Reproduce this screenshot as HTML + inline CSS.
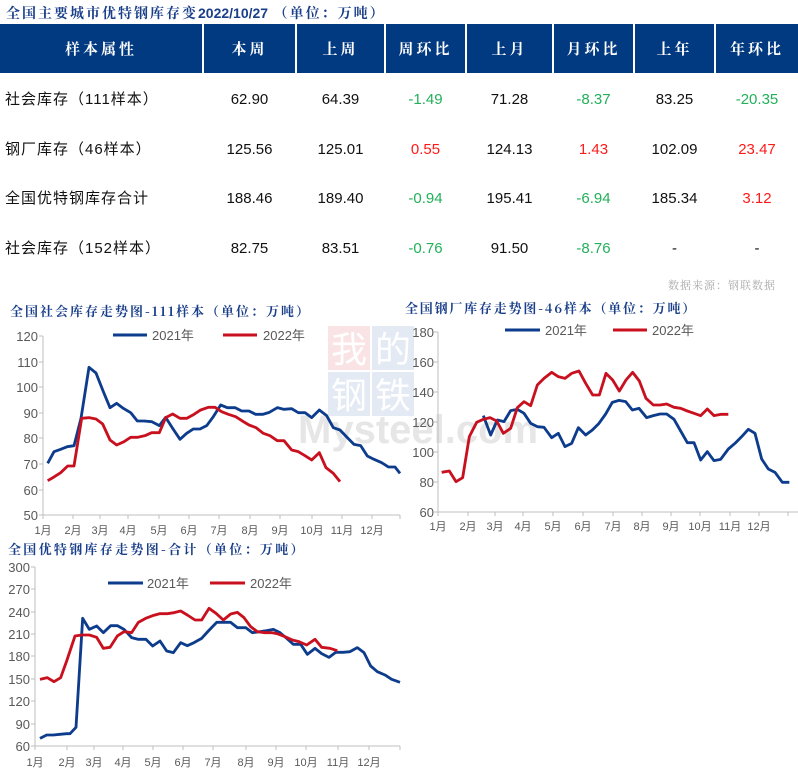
<!DOCTYPE html>
<html><head><meta charset="utf-8">
<style>
body{margin:0;width:798px;height:781px;background:#fff;position:relative;overflow:hidden;font-family:"Liberation Sans","Noto Sans CJK SC",sans-serif;}
.t{position:absolute;white-space:nowrap}
.title{font-family:"Noto Serif CJK SC","Liberation Serif",serif;font-weight:bold;color:#1a3f8a;font-size:13px}
.hd{position:absolute;top:24px;height:49px;background:#023a82;color:#fff;font-family:"Noto Serif CJK SC",serif;font-weight:bold;font-size:15px;line-height:49px;text-align:center;letter-spacing:3px}
.c{position:absolute;text-align:center;font-size:15px;color:#111;line-height:20px}
.g{color:#22b05a}.r{color:#ff1a1a}
</style></head><body>
<div class="t title" style="left:6px;top:3px;font-size:14px;letter-spacing:2px">全国主要城市优特钢库存变<span style="font-family:'Liberation Sans',sans-serif;letter-spacing:0">2022/10/27</span> （单位：万吨）</div>
<div class="hd" style="left:0;width:202px">样本属性</div>
<div class="hd" style="left:204px;width:91px">本周</div>
<div class="hd" style="left:297px;width:87px">上周</div>
<div class="hd" style="left:386px;width:79px">周环比</div>
<div class="hd" style="left:467px;width:85px">上月</div>
<div class="hd" style="left:554px;width:79px">月环比</div>
<div class="hd" style="left:635px;width:79px">上年</div>
<div class="hd" style="left:716px;width:82px">年环比</div>

<div class="c" style="left:5px;top:90px;text-align:left;letter-spacing:1px">社会库存（111样本）</div>
<div class="c" style="left:5px;top:140px;text-align:left;letter-spacing:1px">钢厂库存（46样本）</div>
<div class="c" style="left:5px;top:189px;text-align:left;letter-spacing:1px">全国优特钢库存合计</div>
<div class="c" style="left:5px;top:239px;text-align:left;letter-spacing:1px">社会库存（152样本）</div>

<div class="c" style="left:204px;width:91px;top:90px">62.90</div>
<div class="c" style="left:204px;width:91px;top:140px">125.56</div>
<div class="c" style="left:204px;width:91px;top:189px">188.46</div>
<div class="c" style="left:204px;width:91px;top:239px">82.75</div>
<div class="c" style="left:297px;width:87px;top:90px">64.39</div>
<div class="c" style="left:297px;width:87px;top:140px">125.01</div>
<div class="c" style="left:297px;width:87px;top:189px">189.40</div>
<div class="c" style="left:297px;width:87px;top:239px">83.51</div>
<div class="c g" style="left:386px;width:79px;top:90px">-1.49</div>
<div class="c r" style="left:386px;width:79px;top:140px">0.55</div>
<div class="c g" style="left:386px;width:79px;top:189px">-0.94</div>
<div class="c g" style="left:386px;width:79px;top:239px">-0.76</div>
<div class="c" style="left:467px;width:85px;top:90px">71.28</div>
<div class="c" style="left:467px;width:85px;top:140px">124.13</div>
<div class="c" style="left:467px;width:85px;top:189px">195.41</div>
<div class="c" style="left:467px;width:85px;top:239px">91.50</div>
<div class="c g" style="left:554px;width:79px;top:90px">-8.37</div>
<div class="c r" style="left:554px;width:79px;top:140px">1.43</div>
<div class="c g" style="left:554px;width:79px;top:189px">-6.94</div>
<div class="c g" style="left:554px;width:79px;top:239px">-8.76</div>
<div class="c" style="left:635px;width:79px;top:90px">83.25</div>
<div class="c" style="left:635px;width:79px;top:140px">102.09</div>
<div class="c" style="left:635px;width:79px;top:189px">185.34</div>
<div class="c" style="left:635px;width:79px;top:239px">-</div>
<div class="c g" style="left:716px;width:82px;top:90px">-20.35</div>
<div class="c r" style="left:716px;width:82px;top:140px">23.47</div>
<div class="c r" style="left:716px;width:82px;top:189px">3.12</div>
<div class="c" style="left:716px;width:82px;top:239px">-</div>
<div class="t" style="left:668px;top:277px;font-size:11px;color:#aaa;letter-spacing:1px;font-family:'Noto Serif CJK SC',serif">数据来源：钢联数据</div>

<svg width="798" height="781" style="position:absolute;left:0;top:0" font-family="Liberation Sans, Noto Sans CJK SC, sans-serif">
<g opacity="0.5">
<rect x="328" y="326" width="42" height="44" fill="#f4c9cc"/>
<rect x="372" y="326" width="42" height="44" fill="#c9d6ea"/>
<rect x="328" y="372" width="42" height="44" fill="#c9d6ea"/>
<rect x="372" y="372" width="42" height="44" fill="#c9d6ea"/>
<text x="349" y="362" font-size="36" fill="#fff" text-anchor="middle">我</text>
<text x="393" y="362" font-size="36" fill="#fff" text-anchor="middle">的</text>
<text x="349" y="408" font-size="36" fill="#fff" text-anchor="middle">钢</text>
<text x="393" y="408" font-size="36" fill="#fff" text-anchor="middle">铁</text>
</g>
<text x="298" y="443" font-size="40" fill="#e6e6e6" font-weight="bold">Mysteel.com</text>

<!-- Chart 1 -->
<text x="10" y="316" font-family="Noto Serif CJK SC, serif" font-weight="bold" font-size="13" fill="#1a3f8a" letter-spacing="2">全国社会库存走势图-111样本（单位：万吨）</text>
<g font-size="13" fill="#595959" text-anchor="end">
<text x="38" y="341">120</text><text x="38" y="367">110</text><text x="38" y="392">100</text><text x="38" y="418">90</text><text x="38" y="443">80</text><text x="38" y="469">70</text><text x="38" y="495">60</text><text x="38" y="520">50</text>
</g>
<g stroke="#bfbfbf" stroke-width="1">
<line x1="43" y1="336" x2="43" y2="515"/><line x1="43" y1="515" x2="400" y2="515"/>
<path d="M39 336h4M39 362h4M39 387h4M39 413h4M39 438h4M39 464h4M39 490h4M39 515h4"/>
<path d="M43 515v4M73 515v4M100 515v4M128 515v4M159 515v4M189 515v4M219 515v4M250 515v4M280 515v4M312 515v4M342 515v4M372 515v4M400 515v4"/>
</g>
<g font-size="11" fill="#595959" text-anchor="middle">
<text x="43" y="534">1月</text><text x="73" y="534">2月</text><text x="100" y="534">3月</text><text x="128" y="534">4月</text><text x="159" y="534">5月</text><text x="189" y="534">6月</text><text x="219" y="534">7月</text><text x="250" y="534">8月</text><text x="280" y="534">9月</text><text x="312" y="534">10月</text><text x="342" y="534">11月</text><text x="372" y="534">12月</text>
</g>
<line x1="113" y1="335" x2="147" y2="335" stroke="#0d3c8c" stroke-width="3"/><text x="152" y="340" font-size="13" fill="#595959">2021年</text>
<line x1="223" y1="335" x2="257" y2="335" stroke="#c8101e" stroke-width="3"/><text x="263" y="340" font-size="13" fill="#595959">2022年</text>
<g transform="translate(0,295) scale(0.33333)" fill="none" stroke-width="8.5" stroke-linejoin="round">
<polyline stroke="#0d3c8c" points="143,505 162,470 182,463 202,455 222,452 243,370 267,217 288,234 310,290 330,338 350,325 370,340 392,353 412,378 432,378 455,380 478,392 497,367 518,400 540,433 560,415 580,402 600,402 620,392 640,365 662,330 682,338 705,338 725,348 747,348 767,358 788,358 808,352 832,338 852,343 875,341 895,353 915,353 935,368 958,345 980,362 1000,398 1020,405 1042,428 1062,448 1082,452 1102,483 1122,493 1145,503 1165,516 1185,516 1200,535"/>
<polyline stroke="#c8101e" points="143,557 162,546 182,533 203,513 222,513 245,370 267,368 288,372 308,387 330,435 350,450 372,440 392,427 412,427 435,422 455,413 478,413 497,368 518,357 540,370 560,370 582,358 602,345 625,337 645,337 665,350 685,358 707,365 727,378 747,390 768,398 790,415 810,422 832,437 852,437 875,465 895,470 915,482 935,495 958,473 978,518 1000,535 1020,560"/>
</g>

<!-- Chart 2 -->
<text x="405" y="313" font-family="Noto Serif CJK SC, serif" font-weight="bold" font-size="13" fill="#1a3f8a" letter-spacing="1.8">全国钢厂库存走势图-46样本（单位：万吨）</text>
<g font-size="13" fill="#595959" text-anchor="end">
<text x="434" y="337">180</text><text x="434" y="367">160</text><text x="434" y="397">140</text><text x="434" y="427">120</text><text x="434" y="457">100</text><text x="434" y="487">80</text><text x="434" y="517">60</text>
</g>
<g stroke="#bfbfbf" stroke-width="1">
<line x1="438" y1="332" x2="438" y2="512"/><line x1="438" y1="512" x2="798" y2="512"/>
<path d="M434 332h4M434 362h4M434 392h4M434 422h4M434 452h4M434 482h4M434 512h4"/>
<path d="M438 512v4M468 512v4M495 512v4M523 512v4M553 512v4M583 512v4M613 512v4M642 512v4M671 512v4M700 512v4M730 512v4M759 512v4M788 512v4"/>
</g>
<g font-size="11" fill="#595959" text-anchor="middle">
<text x="438" y="530">1月</text><text x="468" y="530">2月</text><text x="495" y="530">3月</text><text x="523" y="530">4月</text><text x="553" y="530">5月</text><text x="583" y="530">6月</text><text x="613" y="530">7月</text><text x="642" y="530">8月</text><text x="671" y="530">9月</text><text x="700" y="530">10月</text><text x="730" y="530">11月</text><text x="759" y="530">12月</text>
</g>
<line x1="505" y1="330" x2="540" y2="330" stroke="#0d3c8c" stroke-width="3"/><text x="545" y="335" font-size="13" fill="#595959">2021年</text>
<line x1="613" y1="330" x2="647" y2="330" stroke="#c8101e" stroke-width="3"/><text x="652" y="335" font-size="13" fill="#595959">2022年</text>
<g transform="translate(400,295) scale(0.33333)" fill="none" stroke-width="8.5" stroke-linejoin="round">
<polyline stroke="#0d3c8c" points="250,362 272,420 292,375 312,380 332,347 352,343 372,355 392,385 412,395 432,397 455,428 475,415 495,455 515,445 535,398 557,420 577,405 597,385 617,357 637,322 657,316 677,320 697,345 717,340 740,368 760,362 780,357 800,357 822,373 842,408 862,443 882,443 902,495 922,470 942,497 962,493 985,462 1005,445 1025,425 1045,403 1065,415 1085,492 1105,522 1125,532 1147,562 1168,562"/>
<polyline stroke="#c8101e" points="125,532 148,528 168,560 188,548 208,425 230,382 250,373 270,368 290,378 310,415 332,400 352,338 372,320 392,332 412,270 432,250 455,232 475,245 495,250 515,235 537,228 557,265 578,300 598,300 618,235 638,255 658,288 678,255 698,232 718,258 738,310 760,330 780,330 800,327 822,337 842,340 862,348 882,355 902,362 922,342 942,362 962,358 985,358"/>
</g>

<!-- Chart 3 -->
<text x="8" y="554" font-family="Noto Serif CJK SC, serif" font-weight="bold" font-size="13" fill="#1a3f8a" letter-spacing="2.3">全国优特钢库存走势图-合计（单位：万吨）</text>
<g font-size="13" fill="#595959" text-anchor="end">
<text x="30" y="572">300</text><text x="30" y="594">270</text><text x="30" y="617">240</text><text x="30" y="639">210</text><text x="30" y="661">180</text><text x="30" y="684">150</text><text x="30" y="706">120</text><text x="30" y="729">90</text><text x="30" y="751">60</text>
</g>
<g stroke="#bfbfbf" stroke-width="1">
<line x1="35" y1="567" x2="35" y2="746"/><line x1="35" y1="746" x2="400" y2="746"/>
<path d="M31 567h4M31 589h4M31 612h4M31 634h4M31 656h4M31 679h4M31 701h4M31 724h4M31 746h4"/>
<path d="M35 746v4M67 746v4M94 746v4M123 746v4M153 746v4M183 746v4M213 746v4M246 746v4M276 746v4M306 746v4M338 746v4M369 746v4M400 746v4"/>
</g>
<g font-size="11" fill="#595959" text-anchor="middle">
<text x="35" y="766">1月</text><text x="67" y="766">2月</text><text x="94" y="766">3月</text><text x="123" y="766">4月</text><text x="153" y="766">5月</text><text x="183" y="766">6月</text><text x="213" y="766">7月</text><text x="246" y="766">8月</text><text x="276" y="766">9月</text><text x="306" y="766">10月</text><text x="338" y="766">11月</text><text x="369" y="766">12月</text>
</g>
<line x1="108" y1="583" x2="143" y2="583" stroke="#0d3c8c" stroke-width="3"/><text x="147" y="588" font-size="13" fill="#595959">2021年</text>
<line x1="210" y1="583" x2="245" y2="583" stroke="#c8101e" stroke-width="3"/><text x="250" y="588" font-size="13" fill="#595959">2022年</text>
<g transform="translate(0,535) scale(0.33333)" fill="none" stroke-width="8.5" stroke-linejoin="round">
<polyline stroke="#0d3c8c" points="120,610 140,600 160,600 180,598 200,596 210,596 228,577 248,250 268,283 290,273 310,293 332,272 352,272 372,283 395,308 415,313 438,313 458,333 480,318 500,348 520,353 542,323 562,332 582,323 605,310 625,288 650,262 672,262 692,262 712,278 737,278 757,293 780,290 800,287 820,283 840,293 860,310 880,328 902,328 922,358 945,340 965,356 987,367 1007,352 1030,352 1050,350 1072,338 1092,353 1112,393 1132,410 1155,420 1175,433 1200,442"/>
<polyline stroke="#c8101e" points="120,433 142,428 162,440 182,428 200,378 225,303 245,300 268,300 290,307 310,340 330,337 352,303 372,290 395,293 415,262 437,250 458,242 480,236 502,236 522,233 542,228 562,240 585,255 605,255 627,220 648,235 670,255 692,237 712,232 732,248 752,275 772,290 795,293 815,293 835,297 855,305 877,315 897,320 920,330 945,313 965,337 990,340 1012,347"/>
</g>
</svg>
</body></html>
